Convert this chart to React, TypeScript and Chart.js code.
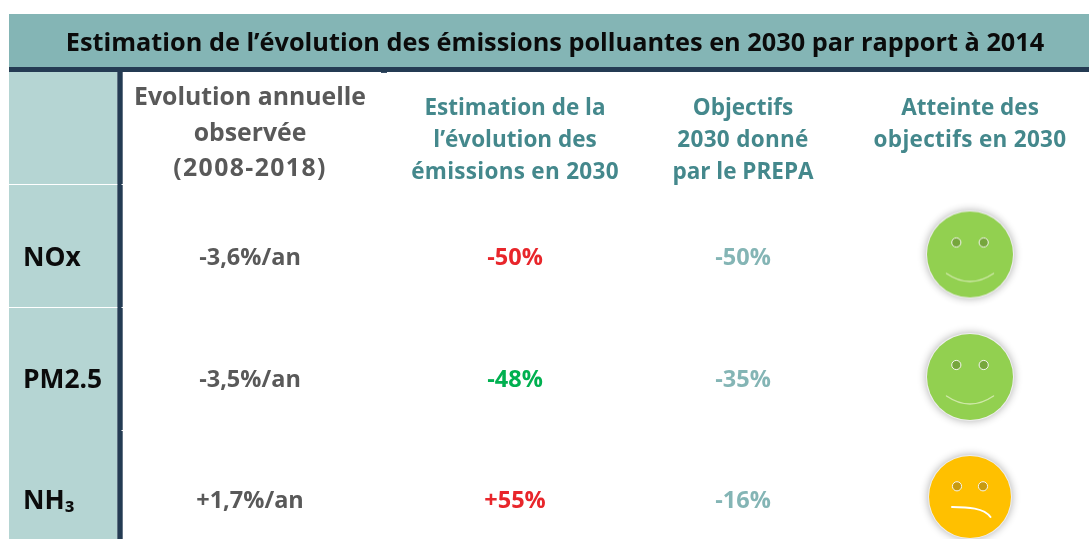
import React, { useEffect, useRef } from "react";
import { Chart, registerables } from "chart.js";

Chart.register(...registerables);

const FONT = '"Open Sans"';

const title = "Estimation de l’évolution des émissions polluantes en 2030 par rapport à 2014";
const columnHeaders = [
  ["Evolution annuelle", "observée", "(2008-2018)"],
  ["Estimation de la", "l’évolution des", "émissions en 2030"],
  ["Objectifs", "2030 donné", "par le PREPA"],
  ["Atteinte des", "objectifs en 2030"],
];
const pollutants = ["NOx", "PM2.5", "NH₃"];
const annualEvolution = ["-3,6%/an", "-3,5%/an", "+1,7%/an"];
const estimate2030 = ["-50%", "-48%", "+55%"];
const estimateColours = ["#E8262B", "#00B050", "#E8262B"];
const objective2030 = ["-50%", "-35%", "-16%"];
const attainment = ["ok", "ok", "warn"];

// Axis positions of the table's columns and rows (the axes run in table units)
const columnCentres = [250, 515, 743, 970];
const rowCentres = [258.5, 380.5, 501.5];
const smileyRows = [254.5, 377, 497];
const rowRules = [184, 307];
const rowNotches = [184, 307, 430];
const headerBand = [14, 67];
const headerRule = [67, 72];
const firstColumn = [9, 117.3];
const columnRule = [117.3, 122.7];

function makeFace(kind: string) {
  const ok = kind === "ok";
  const R = ok ? 43 : 41;
  const size = 2 * R + 28;
  const c = document.createElement("canvas");
  c.width = size;
  c.height = size;
  const g = c.getContext("2d")!;
  g.translate(size / 2, size / 2);
  g.save();
  g.shadowColor = "rgba(0,0,0,0.32)";
  g.shadowBlur = 9;
  g.fillStyle = "#EFEFEF";
  g.beginPath();
  g.arc(0, 0, R + 1, 0, Math.PI * 2);
  g.fill();
  g.restore();
  g.fillStyle = ok ? "#92D050" : "#FFC000";
  g.beginPath();
  g.arc(0, 0, R, 0, Math.PI * 2);
  g.fill();
  const ex = ok ? 13.7 : 13;
  const ey = ok ? -12 : -10.7;
  for (const s of [-1, 1]) {
    g.beginPath();
    g.arc(s * ex, ey, 4.6, 0, Math.PI * 2);
    g.fillStyle = ok ? "#76A63C" : "#C89A10";
    g.fill();
    g.lineWidth = 1;
    g.strokeStyle = "#F6F6F0";
    g.stroke();
  }
  g.lineCap = "round";
  g.beginPath();
  if (ok) {
    g.moveTo(-23.5, 19);
    g.quadraticCurveTo(0, 35, 23.5, 19);
    g.strokeStyle = "#CFE8A8";
    g.lineWidth = 1.4;
  } else {
    g.moveTo(-18, 10);
    g.bezierCurveTo(-2, 10, 14, 11, 20.5, 20);
    g.strokeStyle = "#FFFFFF";
    g.lineWidth = 2;
  }
  g.stroke();
  return c;
}

const tablePlugin = {
  id: "table",
  beforeDatasetsDraw(chart: any) {
    const { ctx, scales } = chart;
    const X = (v: number) => scales.x.getPixelForValue(v);
    const Y = (v: number) => scales.y.getPixelForValue(v);
    const rect = (x0: number, x1: number, y0: number, y1: number, col: string) => {
      ctx.fillStyle = col;
      ctx.fillRect(X(x0), Y(y0), X(x1) - X(x0), Y(y1) - Y(y0));
    };
    const right = scales.x.max;
    const bottom = scales.y.max;
    rect(firstColumn[0], right, headerBand[0], headerBand[1], "#84B5B5");
    rect(firstColumn[0], firstColumn[1], headerRule[1], bottom, "#B5D5D3");
    rect(firstColumn[0], right, headerRule[0], headerRule[1], "#243B53");
    rect(381, 387, headerRule[1], headerRule[1] + 1, "#3A5068");
    rect(columnRule[0], columnRule[1], headerRule[1], bottom, "#243B53");
    for (const r of rowRules) rect(firstColumn[0], firstColumn[1], r, r + 1, "#FFFFFF");
    for (const r of rowNotches) rect(columnRule[1] - 1.2, columnRule[1] + 1, r, r + 1, "#FFFFFF");
    const text = (s: string, x: number, y: number, size: number, col: string, align = "center", spacing = 0) => {
      ctx.font = `700 ${size}px ${FONT}`;
      ctx.letterSpacing = `${spacing}px`;
      ctx.fillStyle = col;
      ctx.textAlign = align;
      ctx.textBaseline = "middle";
      ctx.fillText(s, X(x), Y(y));
      ctx.letterSpacing = "0px";
    };
    text(title, 555, 44, 25.3, "#0B0B0B");
    columnHeaders[0].forEach((l, i) =>
      text(l, columnCentres[0], 98 + i * 35.7, 24.8, "#595959", "center", /\d/.test(l) ? 1.4 : 0)
    );
    for (let c = 1; c < 4; c++) {
      columnHeaders[c].forEach((l, i) =>
        text(l, columnCentres[c], 109 + i * 32, 22.5, "#44888C", "center", /\d/.test(l) ? 0.3 : 0)
      );
    }
    rowCentres.forEach((y, i) => {
      text(pollutants[i], 23, y, 26.4, "#0B0B0B", "left");
      text(annualEvolution[i], columnCentres[0], y, 23.5, "#595959");
      text(estimate2030[i], columnCentres[1], y, 23.5, estimateColours[i]);
      text(objective2030[i], columnCentres[2], y, 23.5, "#84B5B5");
    });
  },
};

export default function App() {
  const ref = useRef<HTMLCanvasElement>(null);
  useEffect(() => {
    const chart = new Chart(ref.current!, {
      type: "scatter",
      data: {
        datasets: [
          {
            label: "Atteinte des objectifs",
            data: attainment.map((_, i) => ({ x: columnCentres[3], y: smileyRows[i] })),
            pointStyle: attainment.map(makeFace) as any,
            pointRadius: 50,
            hoverRadius: 50,
          },
        ],
      },
      options: {
        animation: false,
        responsive: false,
        layout: { padding: 0, autoPadding: false },
        plugins: { legend: { display: false }, tooltip: { enabled: false } },
        scales: {
          x: { type: "linear", min: 0, max: 1089, display: false },
          y: { type: "linear", min: 0, max: 539, reverse: true, display: false },
        },
      },
      plugins: [tablePlugin],
    });
    return () => chart.destroy();
  }, []);
  return (
    <div style={{ position: "fixed", left: 0, top: 0, width: 1089, height: 539, background: "#fff" }}>
      <canvas ref={ref} width={1089} height={539} style={{ display: "block" }} />
    </div>
  );
}
